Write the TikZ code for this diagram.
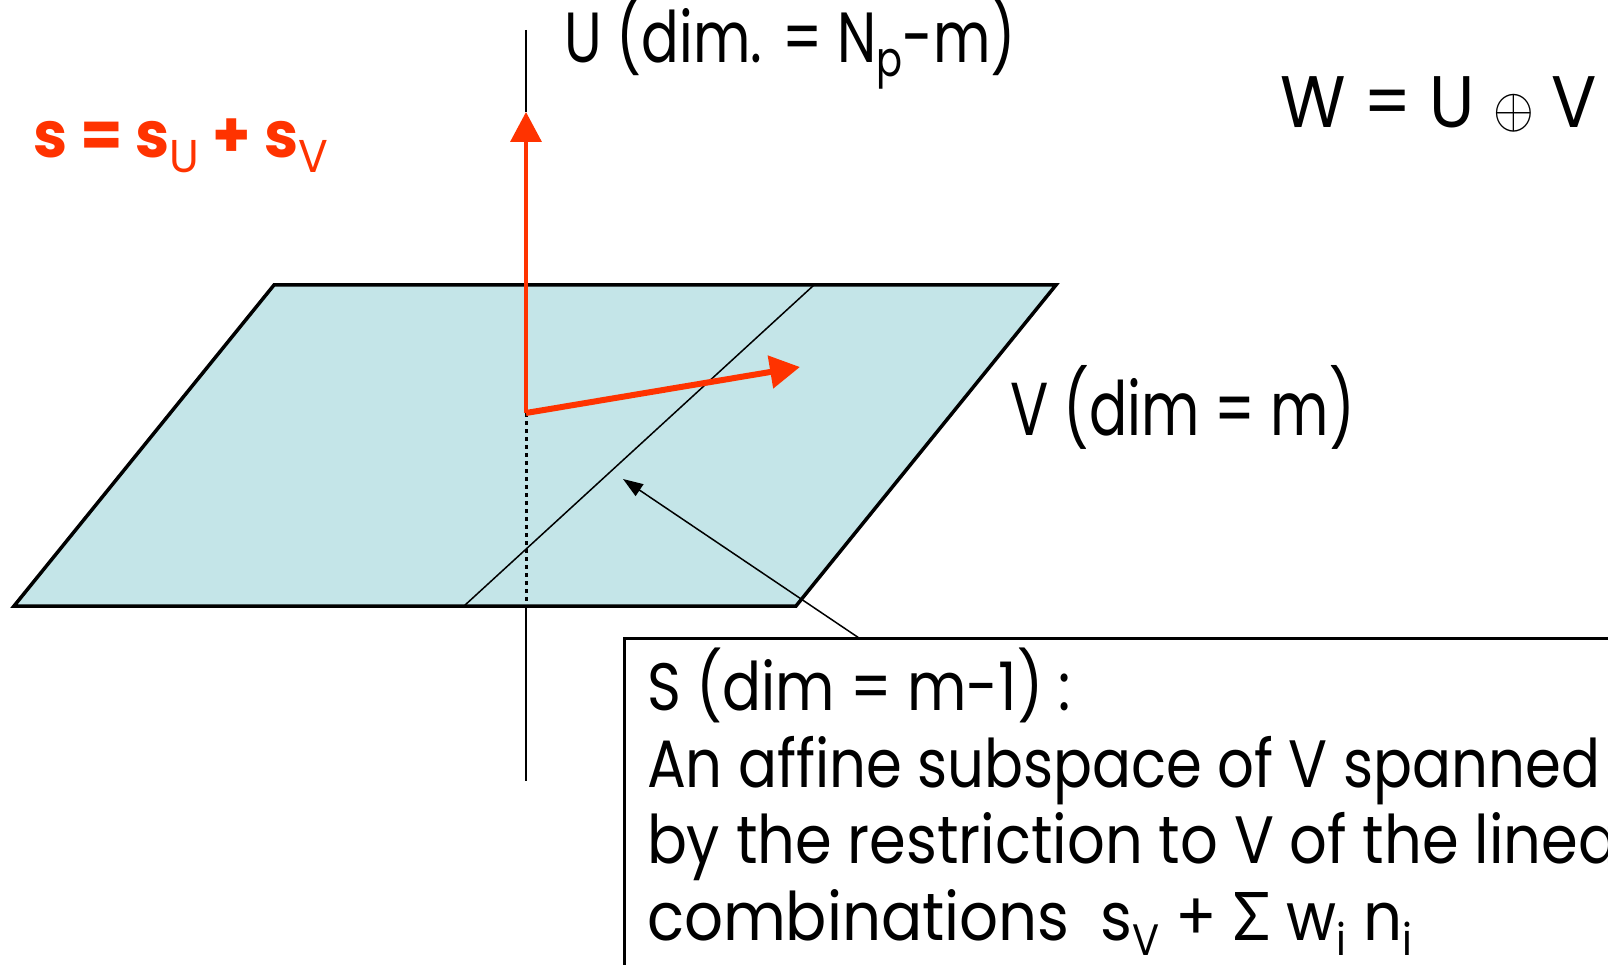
\documentclass[tikz,border=0pt]{standalone}
\usepackage{fontspec}
\setmainfont{Poppins}
\newfontfamily\sigfont{Lato}
\usetikzlibrary{arrows.meta}
\definecolor{planefill}{RGB}{196,229,232}
\definecolor{vecred}{RGB}{255,51,0}
\newcommand\fitw[2]{\resizebox{#1}{\height}{#2}}
\newcommand\lowsub[3]{\raisebox{-#1}{\fontsize{#2}{#2}\selectfont #3}}
\newlength\boxw
\newcommand\boxline[2][1]{\settowidth{\boxw}{\fontsize{67}{67}\selectfont An affine subspace of V spanned}\pgfmathsetmacro\boxsx{#1*953/\boxw}\scalebox{\boxsx}[1]{\fontsize{67}{67}\selectfont #2}}
\begin{document}
\begin{tikzpicture}[x=1pt,y=-1pt,
  lbl/.style={anchor=base west, inner sep=0pt, outer sep=0pt},
  border/.style={line width=3.5pt, line join=miter, draw=black},
  axisline/.style={line width=2.5pt, draw=black},
  redvec/.style={draw=vecred, line cap=butt},
  leader/.style={line width=1.5pt, -{Triangle[length=20pt,width=14pt]}}]
\useasboundingbox (0,0) rectangle (1608,965);
\clip (0,0) rectangle (1608,965);
% plane
\coordinate (P1) at (274,285);
\coordinate (P2) at (1056,285);
\coordinate (P3) at (796,606);
\coordinate (P4) at (14,606);
\fill[planefill] (P1) -- (P2) -- (P3) -- (P4) -- cycle;
% subspace S line
\coordinate (S1) at (814,285);
\coordinate (S2) at (464,606);
\draw[line width=1.5pt] (S1) -- (S2);
% axis
\coordinate (O) at (526,413);
\coordinate (F) at (526,606);
\coordinate (axTop) at (526,30);
\coordinate (axBot) at (526,781);
\coordinate (Utip) at (526,112);
\coordinate (Vtip) at (800,367);
\draw[line width=3pt, dash pattern=on 4pt off 4pt] (O) -- (F);
\draw[border] (P1) -- (P2) -- (P3) -- (P4) -- cycle;
\draw[axisline] (axTop) -- (Utip);
\draw[axisline] (F) -- (axBot);
% red vectors
\draw[redvec, line width=3.5pt, -{Triangle[length=30pt,width=31pt]}, fill=vecred] (O) -- (Utip);
\draw[redvec, line width=6pt, -{Triangle[length=30pt,width=32pt]}, fill=vecred] (O) -- (Vtip);
% box
\coordinate (BoxTL) at (624,638);
\coordinate (BoxBR) at (1640,1000);
\draw[line width=3pt] (BoxTL) rectangle (BoxBR);
\coordinate (BoxPt) at (859,638);
\coordinate (Stip) at (623,479);
\draw[leader] (BoxPt) -- (Stip);
% labels
\node[lbl] (ulabel) at (564,63) {\fitw{452pt}{\fontsize{71}{71}\selectfont U (dim. = N\lowsub{14pt}{49}{p}-m)}};
\node[lbl] (wlabel) at (1280,128) {\fitw{317pt}{\fontsize{73}{73}\selectfont W = U \scalebox{5.7}{\normalsize$\oplus$} V}};
\node[lbl, text=vecred] (slabel) at (33,158) {\fitw{295pt}{\fontsize{64}{64}\selectfont\bfseries s = s\lowsub{15pt}{46}{\mdseries U} + s\lowsub{15pt}{46}{\mdseries V}}};
\node[lbl] (vlabel) at (1010,435) {\fitw{345pt}{\fontsize{75}{75}\selectfont V (dim = m)}};
\node[lbl] (b1) at (647,710) {\boxline{S (dim = m-1) :}};
\node[lbl] (b2) at (647,787) {\boxline{An affine subspace of V spanned}};
\node[lbl] (b3) at (647,863) {\boxline[1.025]{by the restriction to V of the linear}};
\node[lbl] (b4) at (647,940) {\fitw{765pt}{\fontsize{67}{67}\selectfont combinations\hspace{0.5em}s\lowsub{15pt}{44}{V} + {\sigfont Σ} w\lowsub{15pt}{44}{i} n\lowsub{15pt}{44}{i}}};
\end{tikzpicture}
\end{document}
